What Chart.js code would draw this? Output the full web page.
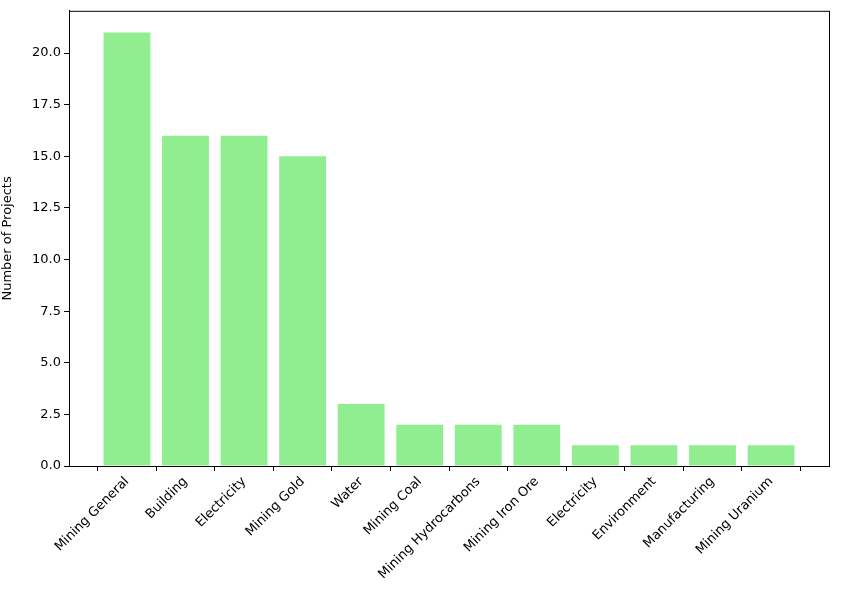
<!DOCTYPE html>
<html><head><meta charset="utf-8">
<script src="https://cdn.jsdelivr.net/npm/chart.js@4"></script>
<style>html,body{margin:0;padding:0;background:#fff}#w{width:851px;height:593px}</style>
</head><body><div id="w"><canvas id="c"></canvas></div>
<script>
const categories=["Mining General","Building","Electricity","Mining Gold","Water","Mining Coal","Mining Hydrocarbons","Mining Iron Ore","Electricity","Environment","Manufacturing","Mining Uranium"];
const counts=[21,16,16,15,3,2,2,2,1,1,1,1];
const yTicks=[0,2.5,5,7.5,10,12.5,15,17.5,20];
const font={family:"DejaVu Sans",size:13};
const frame={id:'frame',afterDraw(c){const a=c.chartArea,x=c.ctx;x.save();x.strokeStyle='#000';x.lineWidth=1;x.strokeRect(a.left+0.5,a.top+0.5,a.right-a.left,a.bottom-a.top);x.restore();}};
new Chart(document.getElementById('c'),{type:'bar',
data:{datasets:[{data:counts.map((v,i)=>({x:i,y:v})),backgroundColor:'#90ee90',barPercentage:0.8,categoryPercentage:1}]},
options:{animation:false,responsive:true,maintainAspectRatio:false,devicePixelRatio:1,
layout:{padding:{left:0,top:5,right:22,bottom:0}},
plugins:{legend:{display:false},tooltip:{enabled:false}},
scales:{
x:{type:'linear',min:-0.99,max:11.99,offset:false,
afterBuildTicks(s){s.ticks=categories.map((_,i)=>({value:i}));},
afterFit(s){s.height=127;},
grid:{drawOnChartArea:false,tickLength:5,color:'#000'},border:{color:'#000'},
ticks:{maxRotation:45,minRotation:45,autoSkip:false,color:'#000',font,callback:(v)=>categories[v]}},
y:{min:0,max:22.05,
afterBuildTicks(s){s.ticks=yTicks.map(v=>({value:v}));},
afterFit(s){s.width=69;},
grid:{drawOnChartArea:false,tickLength:5,color:'#000'},border:{color:'#000'},
title:{display:true,text:'Number of Projects',color:'#000',font,padding:{top:0,bottom:4}},
ticks:{color:'#000',font,padding:3,callback:v=>v.toFixed(1)}}}},
plugins:[frame]});
</script></body></html>
